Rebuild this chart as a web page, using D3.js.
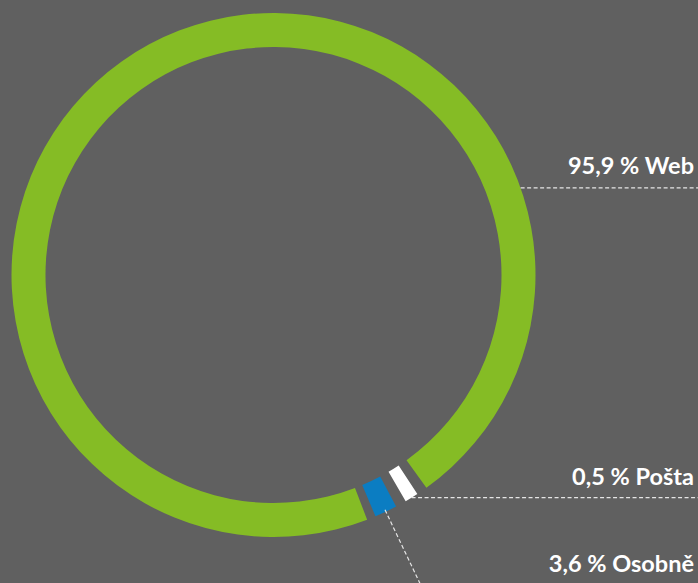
<!DOCTYPE html>
<html>
<head>
<meta charset="utf-8">
<script src="https://cdn.jsdelivr.net/npm/d3@7"></script>
<style>
html,body{margin:0;padding:0;background:#606060;}
svg{display:block;}
text{font-family:Lato,"Open Sans",sans-serif;font-weight:700;fill:#ffffff;}
</style>
</head>
<body>
<svg id="chart" width="698" height="583"></svg>
<script>
// ---- data ----
const categories = ["Web", "Pošta", "Osobně"];
const values = [95.9, 0.5, 3.6];
const labels = ["95,9 % Web", "0,5 % Pošta", "3,6 % Osobně"];
const colors = ["#85bc25", "#ffffff", "#0b7dc2"];

// ---- layout ----
const W = 698, H = 583;
const cx = 273.5, cy = 275;
const rOuter = 262, rInner = 228;
const deg = Math.PI / 180;
const startA = 159.06 * deg;
const gap = 2.4 * deg;          // gap around the small slices
const minSmall = [0, 3 * deg, 5 * deg]; // drawn width of the small slices
const fontSize = 23.5;

const svg = d3.select("#chart");
const g = svg.append("g").attr("transform", `translate(${cx},${cy})`);

const pie = d3.pie().sort(null).value(d => d).startAngle(startA).endAngle(startA + 2 * Math.PI);
const slices = pie(values);

// main slice keeps its proportional angle; the small ones are drawn with a visible minimum width
const drawn = slices.map(s => ({...s}));
let cursor = slices[0].endAngle;
for (let i = 1; i < drawn.length; i++) {
  cursor += gap;
  drawn[i].startAngle = cursor;
  drawn[i].endAngle = cursor + minSmall[i];
  cursor = drawn[i].endAngle;
}

const arc = d3.arc().innerRadius(rInner).outerRadius(rOuter);
g.selectAll("path.slice").data(drawn).join("path")
  .attr("class", "slice")
  .attr("d", arc)
  .attr("fill", (d, i) => colors[i]);

// ---- labels and leaders ----
const pt = (a, r) => [r * Math.sin(a), -r * Math.cos(a)];
const lineStyle = sel => sel.attr("stroke", "#e6e6e6").attr("stroke-width", 1.2)
  .attr("stroke-dasharray", "4,2.5").attr("fill", "none");

// Web: horizontal leader from ring edge
const webA = 70.6 * deg;
const pw = pt(webA, rOuter);
lineStyle(g.append("line").attr("x1", pw[0]).attr("y1", pw[1]).attr("x2", W - cx).attr("y2", pw[1]));
svg.append("text").attr("x", 694).attr("y", cy + pw[1] - 14).attr("text-anchor", "end")
  .attr("font-size", fontSize).text(labels[0]);

// Pošta: horizontal leader from slice's outer mid-point
const mP = (drawn[1].startAngle + drawn[1].endAngle) / 2;
const pp = pt(mP, rOuter);
lineStyle(g.append("line").attr("x1", pp[0]).attr("y1", pp[1]).attr("x2", W - cx).attr("y2", pp[1]));
svg.append("text").attr("x", 694).attr("y", cy + pp[1] - 13).attr("text-anchor", "end")
  .attr("font-size", fontSize).text(labels[1]);

// Osobně: radial leader
const mO = (drawn[2].startAngle + drawn[2].endAngle) / 2;
const po1 = pt(mO, rOuter - 2), po2 = pt(mO, rOuter + 120);
lineStyle(g.append("line").attr("x1", po1[0]).attr("y1", po1[1]).attr("x2", po2[0]).attr("y2", po2[1]));
svg.append("text").attr("x", 694).attr("y", 571.5).attr("text-anchor", "end")
  .attr("font-size", fontSize).text(labels[2]);
</script>
</body>
</html>
